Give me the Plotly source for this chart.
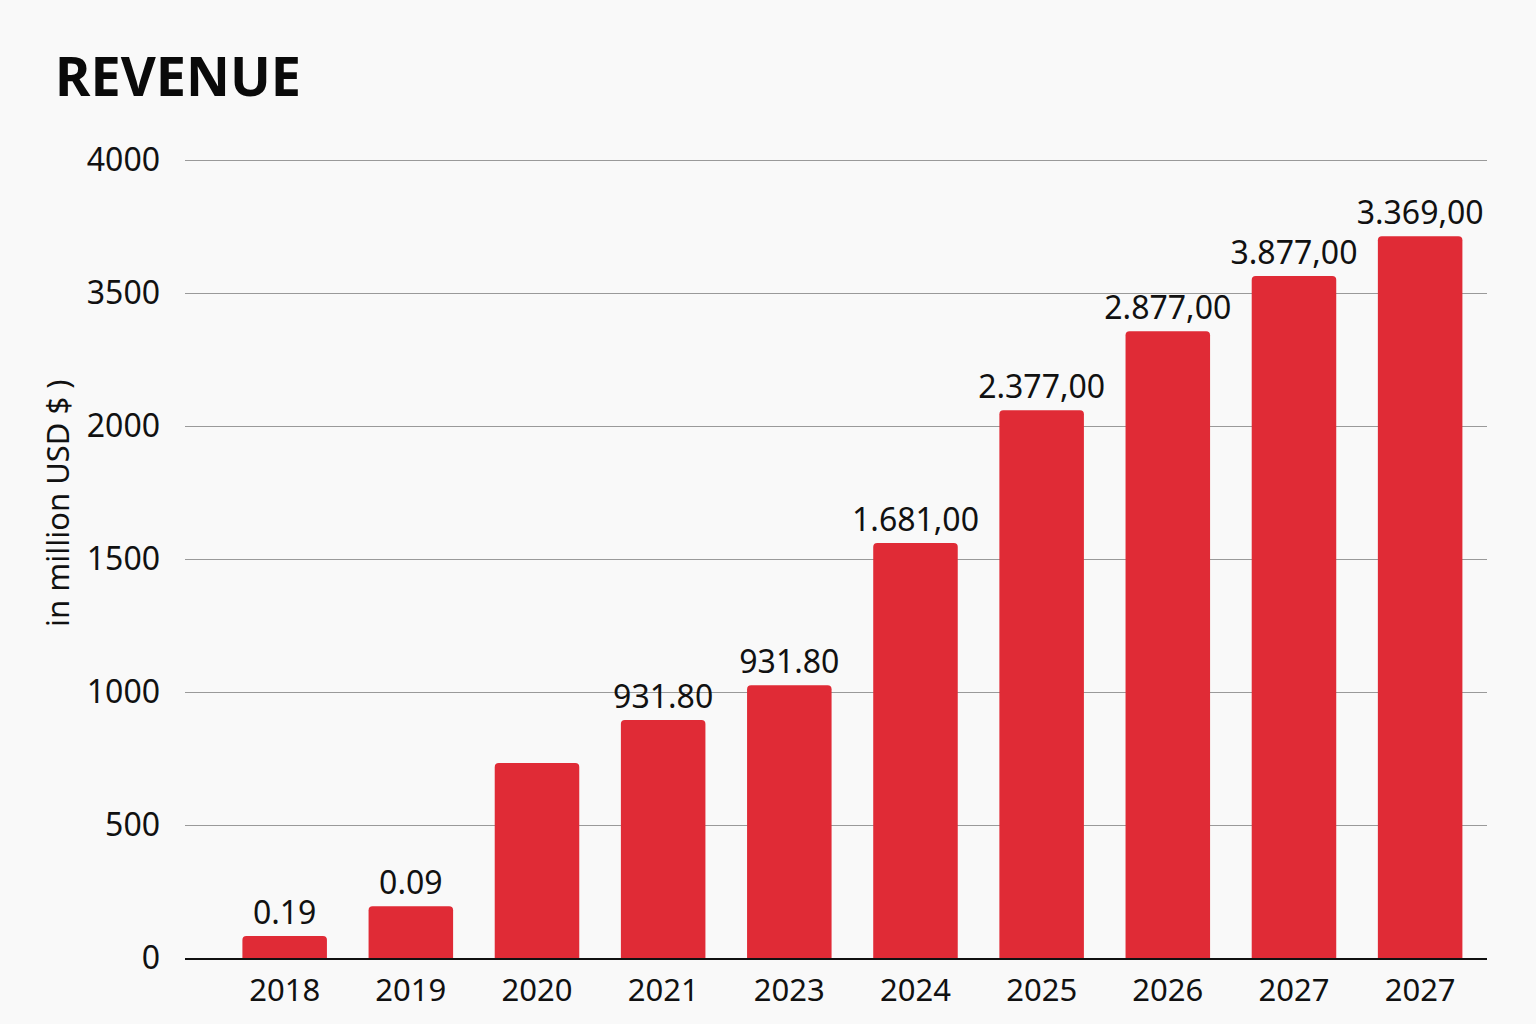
import plotly.graph_objects as go

years = ["2018", "2019", "2020", "2021", "2023", "2024", "2025", "2026", "2027", "2027"]
values = [83, 195, 733, 895, 1026, 1560, 2060, 2357, 2564, 2714]
bar_labels = ["0.19", "0.09", "", "931.80", "931.80", "1.681,00", "2.377,00", "2.877,00", "3.877,00", "3.369,00"]
y_tickvals = [0, 500, 1000, 1500, 2000, 2500, 3000]
y_ticktext = ["0", "500", "1000", "1500", "2000", "3500", "4000"]

positions = list(range(len(years)))

fig = go.Figure(go.Bar(
    x=positions,
    y=values,
    text=bar_labels,
    textposition="outside",
    constraintext="none",
    cliponaxis=False,
    textfont=dict(family="Noto Sans", size=32, color="#111111"),
    marker=dict(color="#E02B36", cornerradius=4, line=dict(width=0)),
    width=0.67,
))

fig.update_layout(
    width=1536, height=1024,
    paper_bgcolor="#F9F9F9", plot_bgcolor="#F9F9F9",
    margin=dict(l=185, r=49, t=158, b=66, autoexpand=False),
    showlegend=False,
    font=dict(family="Noto Sans", color="#111111"),
    title=dict(text="<b>REVENUE</b>", x=55/1536, xanchor="left", xref="container",
               y=1-77/1024, yanchor="middle", yref="container",
               font=dict(family="Noto Sans", size=54, color="#0a0a0a")),
    xaxis=dict(
        tickmode="array", tickvals=positions, ticktext=years,
        range=[-0.79, 9.53], showgrid=False, zeroline=False,
        showline=True, linecolor="#111111", linewidth=2,
        tickfont=dict(size=31, color="#111111"), ticks="", ticklabelstandoff=4,
    ),
    yaxis=dict(
        tickmode="array", tickvals=y_tickvals, ticktext=y_ticktext,
        range=[0, 3008], showgrid=True, gridcolor="#9a9a9a", gridwidth=1,
        zeroline=False, showline=False, ticks="", ticklabelstandoff=24,
        tickfont=dict(size=32, color="#111111"),
    ),
    annotations=[dict(
        text="in million USD $ )", textangle=-90, xref="paper", yref="paper",
        x=(57-185)/1302, y=(958-503)/800, xanchor="center", yanchor="middle",
        showarrow=False, font=dict(size=31, color="#111111"),
    )],
)

fig.write_html("out.html")
